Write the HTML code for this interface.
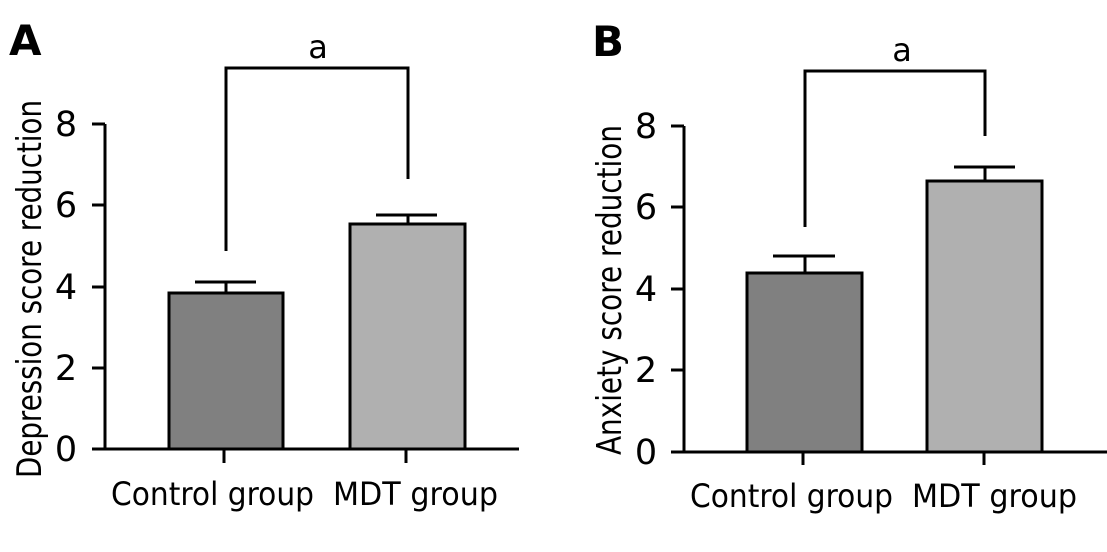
<!DOCTYPE html>
<html><head><meta charset="utf-8"><style>html,body{margin:0;padding:0;background:#fff}svg{display:block}</style></head>
<body>
<svg width="1107" height="552" viewBox="0 0 1107 552" xmlns="http://www.w3.org/2000/svg" font-family="DejaVu Sans, Liberation Sans, sans-serif" fill="#000">
<g stroke="#000" stroke-width="3" fill="none">
<path d="M105 124V449M92 449H519M92 124H105M92 205H105M92 287H105M92 368H105M224 449V463M406 449V463"/>
<rect x="169" y="293" width="114" height="156" fill="#808080"/>
<rect x="350" y="224" width="115" height="225" fill="#b0b0b0"/>
<path d="M226 293V282M195 282H256M408 224V215M376 215H437"/>
<path d="M226 251V68H408V179"/>
<path d="M684 126V452M671 452H1107M671 126H684M671 207H684M671 289H684M671 370H684M803 452V465M984 452V465"/>
<rect x="747" y="273" width="115" height="179" fill="#808080"/>
<rect x="927" y="181" width="115" height="271" fill="#b0b0b0"/>
<path d="M805 273V256M773 256H835M985 181V167M954 167H1015"/>
<path d="M805 227V71H985V136"/>
</g>
<g font-size="35" text-anchor="middle">
<text x="66" y="136">8</text><text x="66" y="217">6</text><text x="66" y="299">4</text><text x="66" y="380">2</text><text x="66" y="461">0</text>
<text x="646" y="138">8</text><text x="646" y="219">6</text><text x="646" y="301">4</text><text x="646" y="382">2</text><text x="646" y="464">0</text>
</g>
<g font-size="32">
<text x="111" y="505" textLength="203" lengthAdjust="spacingAndGlyphs">Control group</text>
<text x="333" y="505" textLength="165" lengthAdjust="spacingAndGlyphs">MDT group</text>
<text x="690" y="507" textLength="203" lengthAdjust="spacingAndGlyphs">Control group</text>
<text x="912" y="507" textLength="165" lengthAdjust="spacingAndGlyphs">MDT group</text>
<text x="318" y="58" text-anchor="middle">a</text>
<text x="902" y="61" text-anchor="middle">a</text>
</g>
<g font-size="34">
<text transform="translate(41,478) rotate(-90)" textLength="378" lengthAdjust="spacingAndGlyphs">Depression score reduction</text>
<text transform="translate(621,455) rotate(-90)" textLength="330" lengthAdjust="spacingAndGlyphs">Anxiety score reduction</text>
</g>
<g font-size="42" font-weight="bold">
<text x="9" y="55">A</text>
<text x="592" y="56">B</text>
</g>
</svg>
</body></html>
